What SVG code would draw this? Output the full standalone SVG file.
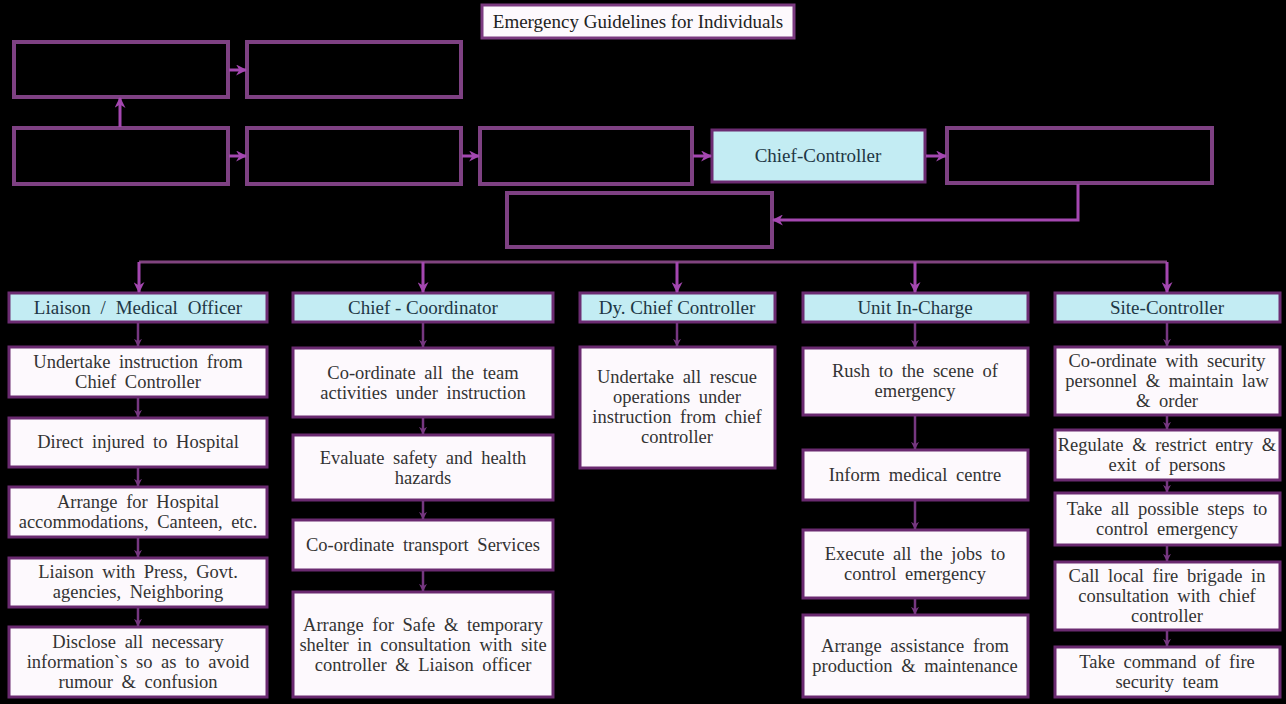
<svg xmlns="http://www.w3.org/2000/svg" width="1286" height="704" viewBox="0 0 1286 704">
  <defs>
    <marker id="ah" viewBox="0 0 10 10" refX="9" refY="5" markerWidth="11" markerHeight="11" markerUnits="userSpaceOnUse" orient="auto">
      <path d="M0,0 L10,5 L0,10 L3,5 Z" fill="#a447b0"/>
    </marker>
    <marker id="ahs" viewBox="0 0 10 10" refX="9" refY="5" markerWidth="8" markerHeight="8" markerUnits="userSpaceOnUse" orient="auto">
      <path d="M0,0 L10,5 L0,10 L3,5 Z" fill="#763780"/>
    </marker>
  </defs>
  <style>
    .dark { fill: #000; stroke: #7e4183; stroke-width: 4; }
    .head { fill: #c3ecf3; stroke: #6c2c72; stroke-width: 3; }
    .item { fill: #fdf9fd; stroke: #6a2a70; stroke-width: 3; }
    .title { fill: #fdf9fd; stroke: #7b3a80; stroke-width: 3; }
    .ht { font-family: "Liberation Serif", serif; font-size: 19px; fill: #1e3745; text-anchor: middle; }
    .bt { font-family: "Liberation Serif", serif; font-size: 18.5px; fill: #333; text-anchor: middle; word-spacing: 4px; }
    .wire { fill: none; stroke: #a447b0; stroke-width: 3; marker-end: url(#ah); }
    .bar { fill: none; stroke: #80447f; stroke-width: 3; }
    .step { fill: none; stroke: #763780; stroke-width: 2.5; marker-end: url(#ahs); }
  </style>
  <rect width="1286" height="704" fill="#000"/>

  <!-- title -->
  <g id="title">
    <rect class="title" x="482" y="5" width="312" height="33"/>
    <text class="ht" x="638" y="28" style="fill:#222">Emergency Guidelines for Individuals</text>
  </g>

  <!-- upper chain -->
  <g id="n-a"><rect class="dark" x="14" y="42" width="214" height="55"/></g>
  <g id="n-b"><rect class="dark" x="247" y="42" width="214" height="55"/></g>
  <g id="n-c"><rect class="dark" x="14" y="128" width="214" height="56"/></g>
  <g id="n-d"><rect class="dark" x="247" y="128" width="214" height="56"/></g>
  <g id="n-e"><rect class="dark" x="480" y="128" width="212" height="56"/></g>
  <g id="chief-controller">
    <rect class="head" x="712" y="130" width="213" height="52"/>
    <text class="ht" x="818" y="162">Chief-Controller</text>
  </g>
  <g id="n-f"><rect class="dark" x="947" y="128" width="265" height="55"/></g>
  <g id="n-g"><rect class="dark" x="507" y="193" width="265" height="54"/></g>

  <!-- column 1 -->
  <g id="liaison">
    <rect class="head" x="9" y="293" width="258" height="29"/>
    <text class="ht" x="138" y="314" style="word-spacing:5px">Liaison / Medical Officer</text>
  </g>
  <g id="l1">
    <rect class="item" x="9" y="347" width="258" height="50"/>
    <text class="bt" x="138" y="368">Undertake instruction from</text>
    <text class="bt" x="138" y="388">Chief Controller</text>
  </g>
  <g id="l2">
    <rect class="item" x="9" y="418" width="258" height="49"/>
    <text class="bt" x="138" y="448">Direct injured to Hospital</text>
  </g>
  <g id="l3">
    <rect class="item" x="9" y="487" width="258" height="50"/>
    <text class="bt" x="138" y="508">Arrange for Hospital</text>
    <text class="bt" x="138" y="528">accommodations, Canteen, etc.</text>
  </g>
  <g id="l4">
    <rect class="item" x="9" y="558" width="258" height="49"/>
    <text class="bt" x="138" y="578">Liaison with Press, Govt.</text>
    <text class="bt" x="138" y="598">agencies, Neighboring</text>
  </g>
  <g id="l5">
    <rect class="item" x="9" y="627" width="258" height="70"/>
    <text class="bt" x="138" y="648">Disclose all necessary</text>
    <text class="bt" x="138" y="668">information`s so as to avoid</text>
    <text class="bt" x="138" y="688">rumour &amp; confusion</text>
  </g>

  <!-- column 2 -->
  <g id="coordinator">
    <rect class="head" x="293" y="293" width="260" height="29"/>
    <text class="ht" x="423" y="314">Chief - Coordinator</text>
  </g>
  <g id="c1">
    <rect class="item" x="293" y="348" width="260" height="69"/>
    <text class="bt" x="423" y="379">Co-ordinate all the team</text>
    <text class="bt" x="423" y="399">activities under instruction</text>
  </g>
  <g id="c2">
    <rect class="item" x="293" y="435" width="260" height="65"/>
    <text class="bt" x="423" y="464">Evaluate safety and health</text>
    <text class="bt" x="423" y="484">hazards</text>
  </g>
  <g id="c3">
    <rect class="item" x="293" y="520" width="260" height="50"/>
    <text class="bt" x="423" y="551">Co-ordinate transport Services</text>
  </g>
  <g id="c4">
    <rect class="item" x="293" y="592" width="260" height="105"/>
    <text class="bt" x="423" y="631">Arrange for Safe &amp; temporary</text>
    <text class="bt" x="423" y="651">shelter in consultation with site</text>
    <text class="bt" x="423" y="671">controller &amp; Liaison officer</text>
  </g>

  <!-- column 3 -->
  <g id="deputy">
    <rect class="head" x="580" y="293" width="195" height="29"/>
    <text class="ht" x="677" y="314">Dy. Chief Controller</text>
  </g>
  <g id="d1">
    <rect class="item" x="580" y="347" width="195" height="121"/>
    <text class="bt" x="677" y="383">Undertake all rescue</text>
    <text class="bt" x="677" y="403">operations under</text>
    <text class="bt" x="677" y="423">instruction from chief</text>
    <text class="bt" x="677" y="443">controller</text>
  </g>

  <!-- column 4 -->
  <g id="unit">
    <rect class="head" x="803" y="293" width="225" height="29"/>
    <text class="ht" x="915" y="314">Unit In-Charge</text>
  </g>
  <g id="u1">
    <rect class="item" x="803" y="348" width="225" height="67"/>
    <text class="bt" x="915" y="377">Rush to the scene of</text>
    <text class="bt" x="915" y="397">emergency</text>
  </g>
  <g id="u2">
    <rect class="item" x="803" y="450" width="225" height="50"/>
    <text class="bt" x="915" y="481">Inform medical centre</text>
  </g>
  <g id="u3">
    <rect class="item" x="803" y="530" width="225" height="68"/>
    <text class="bt" x="915" y="560">Execute all the jobs to</text>
    <text class="bt" x="915" y="580">control emergency</text>
  </g>
  <g id="u4">
    <rect class="item" x="803" y="615" width="225" height="82"/>
    <text class="bt" x="915" y="652">Arrange assistance from</text>
    <text class="bt" x="915" y="672">production &amp; maintenance</text>
  </g>

  <!-- column 5 -->
  <g id="site">
    <rect class="head" x="1055" y="293" width="225" height="29"/>
    <text class="ht" x="1167" y="314">Site-Controller</text>
  </g>
  <g id="s1">
    <rect class="item" x="1055" y="347" width="225" height="68"/>
    <text class="bt" x="1167" y="367">Co-ordinate with security</text>
    <text class="bt" x="1167" y="387">personnel &amp; maintain law</text>
    <text class="bt" x="1167" y="407">&amp; order</text>
  </g>
  <g id="s2">
    <rect class="item" x="1055" y="430" width="225" height="50"/>
    <text class="bt" x="1167" y="451">Regulate &amp; restrict entry &amp;</text>
    <text class="bt" x="1167" y="471">exit of persons</text>
  </g>
  <g id="s3">
    <rect class="item" x="1055" y="493" width="225" height="52"/>
    <text class="bt" x="1167" y="515">Take all possible steps to</text>
    <text class="bt" x="1167" y="535">control emergency</text>
  </g>
  <g id="s4">
    <rect class="item" x="1055" y="562" width="225" height="68"/>
    <text class="bt" x="1167" y="582">Call local fire brigade in</text>
    <text class="bt" x="1167" y="602">consultation with chief</text>
    <text class="bt" x="1167" y="622">controller</text>
  </g>
  <g id="s5">
    <rect class="item" x="1055" y="647" width="225" height="50"/>
    <text class="bt" x="1167" y="668">Take command of fire</text>
    <text class="bt" x="1167" y="688">security team</text>
  </g>

  <!-- connectors -->
  <g id="connectors">
    <path class="wire" d="M229,70 H246"/>
    <path class="wire" d="M229,156 H246"/>
    <path class="wire" d="M462,156 H479"/>
    <path class="wire" d="M693,156 H711"/>
    <path class="wire" d="M926,156 H946"/>
    <path class="wire" d="M120,127 V98"/>
    <path class="wire" d="M1078,184 V220 H773"/>
    <path class="bar" d="M139,262 H1167"/>
    <path class="wire" d="M139,262 V292"/>
    <path class="wire" d="M423,262 V292"/>
    <path class="wire" d="M677,262 V292"/>
    <path class="wire" d="M915,262 V292"/>
    <path class="wire" d="M1167,262 V292"/>
    <!-- steps down each column -->
    <path class="step" d="M138,323 V346"/>
    <path class="step" d="M138,398 V417"/>
    <path class="step" d="M138,468 V486"/>
    <path class="step" d="M138,538 V557"/>
    <path class="step" d="M138,608 V626"/>
    <path class="step" d="M423,323 V347"/>
    <path class="step" d="M423,418 V434"/>
    <path class="step" d="M423,501 V519"/>
    <path class="step" d="M423,571 V591"/>
    <path class="step" d="M677,323 V346"/>
    <path class="step" d="M915,323 V347"/>
    <path class="step" d="M915,416 V449"/>
    <path class="step" d="M915,501 V529"/>
    <path class="step" d="M915,599 V614"/>
    <path class="step" d="M1167,323 V346"/>
    <path class="step" d="M1167,416 V429"/>
    <path class="step" d="M1167,481 V492"/>
    <path class="step" d="M1167,546 V561"/>
    <path class="step" d="M1167,631 V646"/>
  </g>
</svg>
